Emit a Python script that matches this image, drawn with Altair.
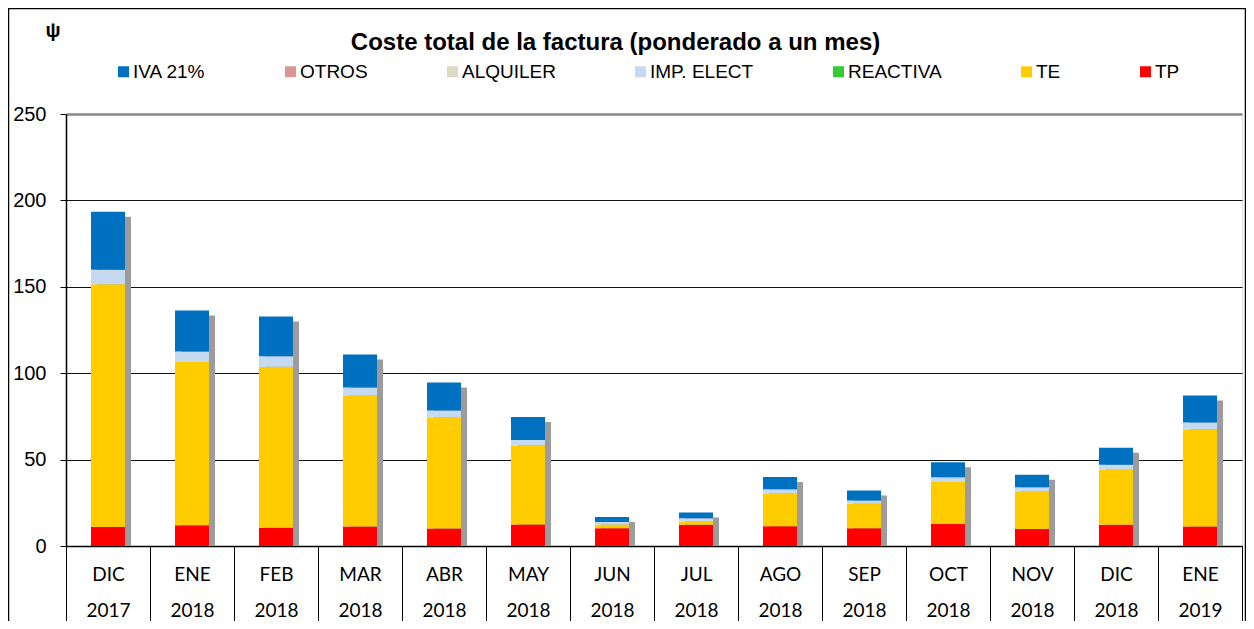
import altair as alt
import pandas as pd

categories = ["DIC 2017", "ENE 2018", "FEB 2018", "MAR 2018", "ABR 2018", "MAY 2018",
              "JUN 2018", "JUL 2018", "AGO 2018", "SEP 2018", "OCT 2018", "NOV 2018",
              "DIC 2018", "ENE 2019"]

# segment values (EUR)
tp = [11.0, 12.0, 10.5, 11.3, 10.1, 12.4, 10.3, 12.3, 11.5, 10.3, 12.8, 9.9, 12.3, 11.3]
te = [140.5, 94.5, 93.2, 75.8, 64.3, 45.8, 2.1, 1.9, 18.9, 14.1, 24.3, 21.6, 31.8, 56.3]
reactiva = [0.0] * 14
imp_elect = [8.3, 6.0, 6.1, 4.6, 4.0, 3.2, 1.5, 1.9, 2.5, 1.9, 2.7, 2.5, 2.9, 3.9]
alquiler = [0.0] * 14
otros = [0.0] * 14
iva = [33.6, 23.8, 23.0, 19.1, 16.2, 13.3, 2.9, 3.3, 7.1, 5.8, 8.7, 7.2, 9.8, 15.6]

legend_order = ["IVA 21%", "OTROS", "ALQUILER", "IMP. ELECT", "REACTIVA", "TE", "TP"]
colors = ["#0070C0", "#DA9694", "#DDD9C4", "#C5D9F1", "#33CC33", "#FFCC00", "#FF0000"]

title_text = "Coste total de la factura (ponderado a un mes)"
corner_text = "ψ"

stack_series = [("TP", tp), ("TE", te), ("REACTIVA", reactiva), ("IMP. ELECT", imp_elect),
                ("ALQUILER", alquiler), ("OTROS", otros), ("IVA 21%", iva)]

rows = []
for k, (name, vals) in enumerate(stack_series):
    for c, v in zip(categories, vals):
        rows.append({"cat": c, "serie": name, "value": v, "orden": k})
df = pd.DataFrame(rows)

W, H = 1176, 432

xenc = alt.X("cat:N", sort=categories, title=None,
             scale=alt.Scale(paddingInner=0, paddingOuter=0),
             axis=alt.Axis(labelExpr="split(datum.label, ' ')", labelAngle=0,
                           labelFont="Lato", labelFontSize=19, labelColor="black",
                           labelLineHeight=36, labelPadding=-64,
                           tickBand="extent", tickSize=83, tickColor="black", tickWidth=1,
                           domainColor="black", domainWidth=1.5, grid=False))

yscale = alt.Scale(domain=[0, 250], nice=False)

shadow = alt.Chart(df).mark_bar(size=34, color="#9C9C9C", xOffset=6, yOffset=5, y2Offset=2).encode(
    x=xenc,
    y=alt.Y("sum(value):Q", scale=yscale, title=None,
            axis=alt.Axis(values=[0, 50, 100, 150, 200, 250], labelFont="Liberation Sans",
                          labelFontSize=20, labelColor="black", labelPadding=14,
                          tickColor="black", tickSize=6, domainColor="black", domainWidth=1.5,
                          gridColor={"condition": {"test": "datum.value === 250", "value": "#888888"}, "value": "#111111"},
                          gridWidth={"condition": {"test": "datum.value === 250", "value": 2.5}, "value": 1})),
)

bars = alt.Chart(df).mark_bar(size=34).encode(
    x=alt.X("cat:N", sort=categories),
    y=alt.Y("value:Q", stack="zero", scale=yscale),
    color=alt.Color("serie:N", scale=alt.Scale(domain=legend_order, range=colors),
                    legend=alt.Legend(orient="none", legendX=48, legendY=-52, direction="horizontal",
                                      columns=7, columnPadding=75, symbolType="square",
                                      symbolSize=121, symbolStrokeWidth=0, symbolOpacity=1,
                                      labelFont="Liberation Sans", labelFontSize=19,
                                      labelColor="black", labelOffset=0, title=None)),
    order=alt.Order("orden:Q", sort="ascending"),
)

psi = alt.Chart(pd.DataFrame({"t": [corner_text]})).mark_text(
    font="Liberation Sans", fontWeight="bold", fontSize=20, color="black"
).encode(text="t:N", x=alt.value(-13), y=alt.value(-83))

title = alt.Chart(pd.DataFrame({"t": [title_text]})).mark_text(
    font="Liberation Sans", fontWeight="bold", fontSize=24, color="black",
    align="center", baseline="alphabetic"
).encode(text="t:N", x=alt.value(549.5), y=alt.value(-64))

frame = alt.Chart(pd.DataFrame({"t": [1]})).mark_rect(
    fillOpacity=0, stroke="black", strokeWidth=1.5, clip=False
).encode(x=alt.value(-57.5), x2=alt.value(W + 3.5), y=alt.value(-105.5), y2=alt.value(H + 80))

chart = alt.layer(frame, shadow, bars, psi, title).properties(
    width=W, height=H,
    autosize=alt.AutoSizeParams(type="none"),
    padding={"left": 58, "top": 106, "right": 4, "bottom": 75},
).configure_view(stroke="#888888", strokeWidth=2).configure(background="white")

chart.save("out.html", embed_options={"renderer": "svg", "actions": False})
